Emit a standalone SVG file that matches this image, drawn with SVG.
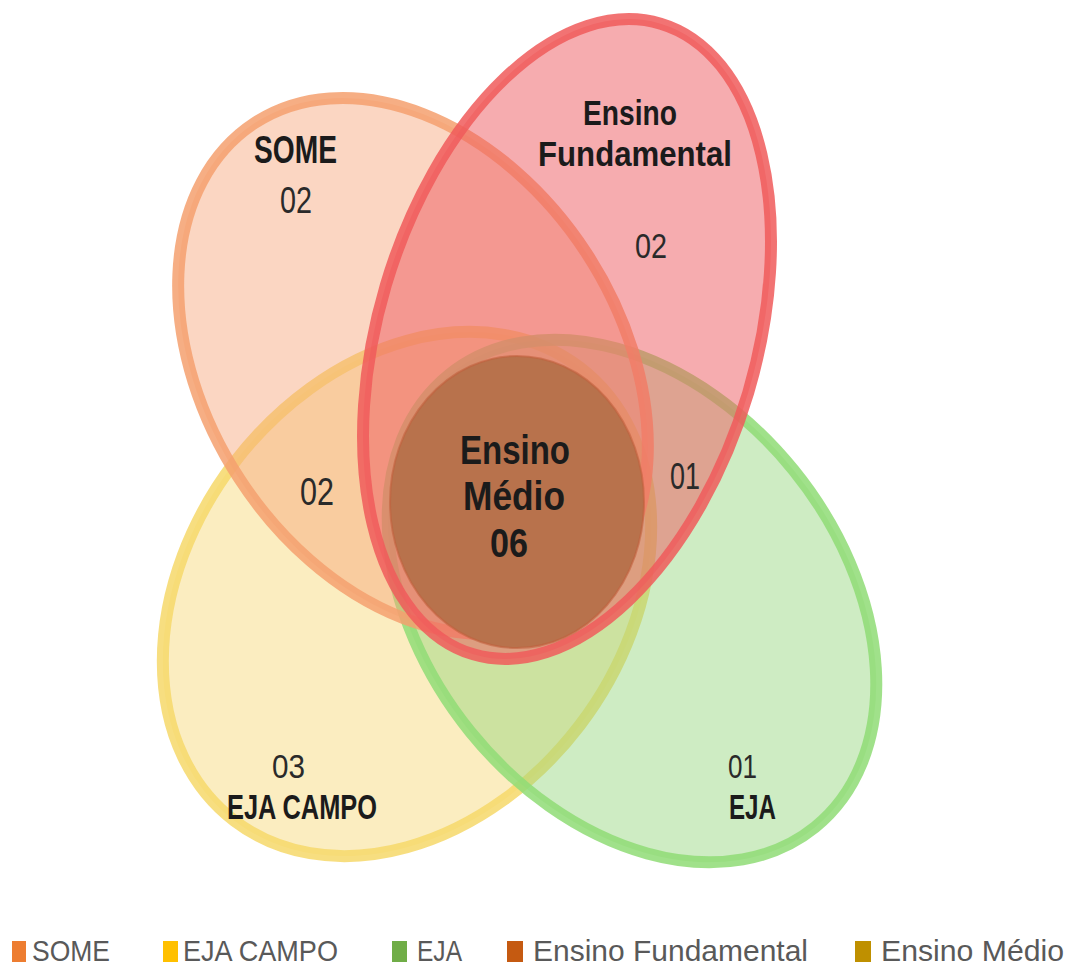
<svg xmlns="http://www.w3.org/2000/svg" width="1068" height="973" viewBox="0 0 1068 973">
<style>
.set{stroke-width:12;}
.lbl{font-family:"Liberation Sans",Arial,sans-serif;font-weight:700;fill:#1b1b1b;}
.num{font-family:"Liberation Sans",Arial,sans-serif;font-weight:400;fill:#2a2a2a;}
.leg{font-family:"Liberation Sans",Arial,sans-serif;font-weight:400;fill:#595959;font-size:30px;}
</style>
<rect width="1068" height="973" fill="#ffffff"/>
<g id="eja-campo">
<ellipse class="set" cx="407" cy="594" rx="285" ry="217" transform="rotate(-52.7 407 594)" fill="#f6d774" fill-opacity="0.45" stroke="#f6d86a" stroke-opacity="0.85"/>
</g>
<g id="eja">
<ellipse class="set" cx="632" cy="601" rx="291" ry="208" transform="rotate(51 632 601)" fill="#92d57a" fill-opacity="0.45" stroke="#8fdc75" stroke-opacity="0.85"/>
</g>
<g id="some">
<ellipse class="set" cx="413" cy="366" rx="290" ry="207" transform="rotate(56.9 413 366)" fill="#f6a377" fill-opacity="0.45" stroke="#f5a06e" stroke-opacity="0.85"/>
</g>
<g id="ensino-fundamental">
<ellipse class="set" cx="567" cy="339" rx="329" ry="189" transform="rotate(-73.45 567 339)" fill="#ee5a5f" fill-opacity="0.5" stroke="#f05a5a" stroke-opacity="0.85"/>
</g>
<g id="ensino-medio">
<ellipse cx="517" cy="502" rx="127" ry="146" fill="#b8724c" stroke="#c2603e" stroke-width="2" stroke-opacity="0.6"/>
<text class="lbl" x="460" y="464" font-size="40" textLength="110" lengthAdjust="spacingAndGlyphs">Ensino</text>
<text class="lbl" x="463" y="510" font-size="40" textLength="102" lengthAdjust="spacingAndGlyphs">Médio</text>
<text class="lbl" x="490" y="557" font-size="40" textLength="38" lengthAdjust="spacingAndGlyphs">06</text>
</g>
<g id="labels">
<text class="lbl" x="254" y="163" font-size="38" textLength="83" lengthAdjust="spacingAndGlyphs">SOME</text>
<text class="num" x="280" y="213" font-size="36" textLength="32" lengthAdjust="spacingAndGlyphs">02</text>
<text class="lbl" x="583" y="125" font-size="35" textLength="94" lengthAdjust="spacingAndGlyphs">Ensino</text>
<text class="lbl" x="538" y="166" font-size="35" textLength="194" lengthAdjust="spacingAndGlyphs">Fundamental</text>
<text class="num" x="635" y="258" font-size="35" textLength="32" lengthAdjust="spacingAndGlyphs">02</text>
<text class="num" x="300" y="505" font-size="38" textLength="34" lengthAdjust="spacingAndGlyphs">02</text>
<text class="num" x="670" y="489" font-size="36" textLength="30" lengthAdjust="spacingAndGlyphs">01</text>
<text class="num" x="272" y="778" font-size="34" textLength="33" lengthAdjust="spacingAndGlyphs">03</text>
<text class="lbl" x="227" y="819" font-size="35" textLength="150" lengthAdjust="spacingAndGlyphs">EJA CAMPO</text>
<text class="num" x="728" y="778" font-size="34" textLength="29" lengthAdjust="spacingAndGlyphs">01</text>
<text class="lbl" x="729" y="819" font-size="35" textLength="47" lengthAdjust="spacingAndGlyphs">EJA</text>
</g>
<g id="legend">
<rect x="12" y="941" width="14" height="21" fill="#ED7D31"/>
<text class="leg" x="32" y="961" textLength="78" lengthAdjust="spacingAndGlyphs">SOME</text>
<rect x="163" y="941" width="15" height="21" fill="#FFC000"/>
<text class="leg" x="183" y="961" textLength="155" lengthAdjust="spacingAndGlyphs">EJA CAMPO</text>
<rect x="392" y="941" width="15" height="21" fill="#70AD47"/>
<text class="leg" x="417" y="961" textLength="45" lengthAdjust="spacingAndGlyphs">EJA</text>
<rect x="507" y="941" width="16" height="21" fill="#C55A11"/>
<text class="leg" x="533" y="961" textLength="275" lengthAdjust="spacingAndGlyphs">Ensino Fundamental</text>
<rect x="855" y="941" width="16" height="21" fill="#BF9000"/>
<text class="leg" x="881" y="961" textLength="183" lengthAdjust="spacingAndGlyphs">Ensino Médio</text>
</g>
</svg>
